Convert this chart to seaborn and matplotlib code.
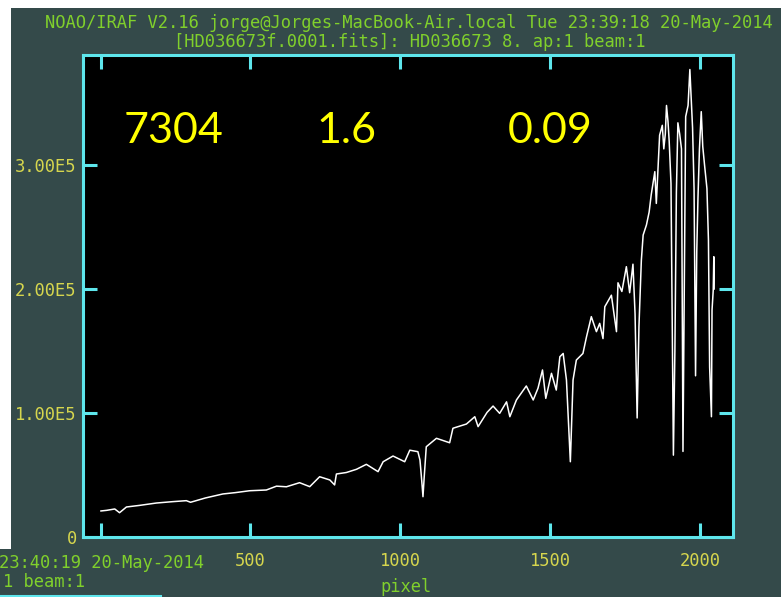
import pandas as pd
import matplotlib
matplotlib.use('Agg')
import matplotlib.pyplot as plt
from matplotlib.patches import Rectangle
from matplotlib.lines import Line2D
import seaborn as sns

# spectrum values
pixel = [1, 20, 47, 63, 86, 130, 186, 240, 286, 300, 350, 408, 450, 497, 553,
         587, 620, 664, 698, 731, 765, 781, 787, 820, 854, 887, 926, 943, 976,
         1015, 1032, 1059, 1066, 1072, 1076, 1080, 1087, 1121, 1165, 1176, 1221,
         1249, 1260, 1290, 1310, 1332, 1355, 1366, 1388, 1421, 1444, 1460, 1475,
         1486, 1505, 1521, 1533, 1544, 1555, 1568, 1577, 1588, 1610, 1622, 1638,
         1655, 1666, 1677, 1683, 1705, 1722, 1727, 1740, 1755, 1766, 1777, 1784,
         1791, 1797, 1805, 1811, 1822, 1831, 1838, 1850, 1855, 1861, 1866, 1875,
         1880, 1885, 1889, 1894, 1898, 1904, 1912, 1917, 1922, 1927, 1933, 1939,
         1944, 1950, 1953, 1961, 1967, 1971, 1976, 1981, 1986, 1990, 1994, 1999,
         2005, 2010, 2016, 2024, 2029, 2033, 2039, 2041, 2045, 2047, 2048]
flux = [21000, 21500, 22600, 19600, 24200, 25500, 27400, 28500, 29300, 28000,
        31500, 34700, 35800, 37300, 37900, 41000, 40500, 43800, 40600, 48600,
        46000, 42000, 50800, 52000, 54600, 58600, 52700, 60700, 65300, 60700,
        70000, 68800, 62000, 45000, 32500, 48000, 72800, 79600, 76000, 87700,
        91100, 97000, 89000, 100500, 105600, 99700, 109000, 97000, 110500,
        121800, 110500, 120000, 134700, 111800, 132000, 118500, 145400, 148000,
        126600, 60700, 126600, 142700, 148000, 161500, 177700, 165600, 172300,
        160000, 185700, 195000, 165600, 205000, 198000, 218000, 197000, 220000,
        180000, 96000, 169600, 223000, 243500, 251600, 262000, 276000, 294600,
        269000, 299000, 324000, 332000, 313000, 325000, 348000, 335000, 319000,
        285000, 66000, 150000, 278000, 334000, 325000, 313000, 69000, 250000,
        339000, 348000, 377000, 356000, 330000, 281000, 130000, 230000, 273000,
        313000, 343000, 315000, 300000, 281000, 239500, 137000, 97000, 183000,
        199000, 226000, 200000]

x_ticks = [0, 500, 1000, 1500, 2000]
x_tick_labels = ['', '500', '1000', '1500', '2000']
y_ticks = [0, 100000, 200000, 300000]
y_tick_labels = ['0', '1.00E5', '2.00E5', '3.00E5']

title1 = 'NOAO/IRAF V2.16 jorge@Jorges-MacBook-Air.local Tue 23:39:18 20-May-2014'
title2 = '[HD036673f.0001.fits]: HD036673 8. ap:1 beam:1'
notes = ['7304', '1.6', '0.09']

df = pd.DataFrame({'pixel': pixel, 'flux': flux})

W, H = 781, 597
bg = '#344a4a'
green = '#80d02c'
yellow = '#d6d64e'
cyan = '#5ee6ec'
mono = 'DejaVu Sans Mono'

fig = plt.figure(figsize=(W / 100, H / 100), dpi=100, facecolor=bg)


def fx(px):
    return px / W


def fy(py):
    return 1 - py / H


ax = fig.add_axes([fx(83), fy(537), fx(733) - fx(83), fy(55) - fy(537)])
ax.set_facecolor('black')

sns.lineplot(data=df, x='pixel', y='flux', color='white', lw=1.1,
             estimator=None, sort=False, ax=ax)

ax.set_xlim(-59, 2111)
ax.set_ylim(0, 388700)
ax.set_xticks(x_ticks)
ax.set_xticklabels(x_tick_labels)
ax.set_yticks(y_ticks)
ax.set_yticklabels(y_tick_labels)
ax.set_xlabel('')
ax.set_ylabel('')

for s in ax.spines.values():
    s.set_color(cyan)
    s.set_linewidth(2.2)

ax.tick_params(direction='in', length=10, width=2.2, color=cyan,
               top=True, right=True, labelcolor=yellow, labelsize=12.3)
ax.tick_params(axis='x', pad=11)
ax.tick_params(axis='y', pad=4.5)
for lab in ax.get_xticklabels() + ax.get_yticklabels():
    lab.set_family(mono)

# yellow annotations
for txt, px in zip(notes, [127, 320, 511]):
    fig.text(fx(px) - 0.004, fy(143), txt, color='#ffff00', family='Lato',
             fontsize=31, ha='left', va='baseline')

# header
fig.text(fx(409), fy(23), title1, color=green, family=mono, fontsize=12.3,
         ha='center', va='center')
fig.text(fx(410), fy(42), title2, color=green, family=mono, fontsize=12.3,
         ha='center', va='center')
fig.text(fx(406), fy(587), 'pixel', color=green, family=mono, fontsize=12.3,
         ha='center', va='center')

# overlapping window bits at the bottom left
fig.text(fx(-1), fy(563), '23:40:19 20-May-2014', color=green, family=mono,
         fontsize=12.3, ha='left', va='center')
fig.text(fx(3), fy(582), '1 beam:1', color=green, family=mono,
         fontsize=12.3, ha='left', va='center')

fig.patches.append(Rectangle((0, fy(8)), 1, 8 / H, transform=fig.transFigure,
                             facecolor='white', edgecolor='none'))
fig.patches.append(Rectangle((0, fy(549)), fx(11), fy(8) - fy(549),
                             transform=fig.transFigure, facecolor='white',
                             edgecolor='none'))
fig.lines.append(Line2D([0, fx(160)], [fy(595.5), fy(595.5)],
                        transform=fig.transFigure, color=cyan, lw=2.2))

fig.savefig('out.png', dpi=100, facecolor=bg)
